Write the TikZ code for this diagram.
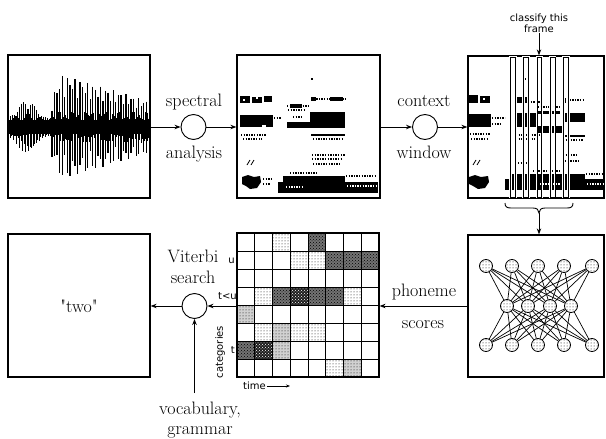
\documentclass[tikz,border=0pt]{standalone}
\usepackage{fontspec}
\newfontfamily\smallsans{DejaVu Sans}
\newfontfamily\qfont{Latin Modern Roman}
\usetikzlibrary{arrows.meta,patterns}
\tikzset{
  box/.style={draw, line width=1.3pt, inner sep=0pt},
  circ/.style={draw, circle, line width=0.9pt, minimum size=25pt, inner sep=0pt},
  lab/.style={font=\fontsize{18}{21}\selectfont, inner sep=0pt},
  small/.style={font=\smallsans\fontsize{10}{11}\selectfont, inner sep=0pt},
  arr/.style={-{Stealth[length=6pt,width=4.5pt]}, line width=0.9pt},
  dotrow/.style={line width=1.3pt, dash pattern=on 1.3pt off 1.3pt},
  frm/.style={line width=1pt},
  nn/.style={draw, circle, line width=0.8pt, minimum size=13pt, inner sep=0pt, pattern=dots},
  clight/.style={pattern=dots},
  cmed/.style={fill=black!18, postaction={pattern=dots}},
  cdark/.style={fill=black!55, postaction={pattern=crosshatch dots}},
  cvdark/.style={fill=black!88, postaction={pattern=crosshatch dots, pattern color=white}},
}
\newcommand\gcell[3]{\path[#3] ({237+#1*17.75},{233+#2*18}) rectangle ({237+(#1+1)*17.75},{233+(#2+1)*18});}
\begin{document}
\begin{tikzpicture}[x=1pt,y=-1pt]
\useasboundingbox (0,0) rectangle (606,439);

% ---------- boxes ----------
\node[box, minimum width=142pt, minimum height=143pt] (b1) at (79,126.5) {};
\node[box, minimum width=143pt, minimum height=143pt] (b2) at (308.5,126.5) {};
\node[box, minimum width=136pt, minimum height=142pt] (b3) at (536,127) {};
\node[box, minimum width=136pt, minimum height=142pt] (b4) at (536,306) {};
\node[box, minimum width=142pt, minimum height=143pt] (b5) at (79,305.5) {};

% ---------- waveform ----------
\foreach \i in {0,...,139}{
  \pgfmathsetmacro\xx{9.5+\i}
  \pgfmathsetmacro\env{\xx<50 ? 8+19*exp(0-pow((\xx-27)/12,2)) : 15}
  \pgfmathsetmacro\up{7+(\env-7)*pow(abs(sin(\i*97.3)),2)}
  \pgfmathsetmacro\dn{7+(\env-7)*pow(abs(sin(\i*61.7+20)),2)}
  \draw[line width=1.05pt] (\xx,127-\up) -- (\xx,127+\dn);
}
\foreach \j in {0,...,37}{
  \pgfmathsetmacro\xx{52+\j*2.55}
  \pgfmathsetmacro\A{\xx<62 ? 30+2.2*(\xx-52) : 52-0.3*(\xx-62)}
  \pgfmathsetmacro\up{\A*(0.55+0.45*abs(sin(\j*71.3)))}
  \pgfmathsetmacro\dn{\A*(0.55+0.45*abs(cos(\j*53.9)))}
  \draw[line width=1.3pt] (\xx,127-\up) -- (\xx,127+\dn);
}

% ---------- spectrogram 1 ----------
\fill (311,78) rectangle (313,80);
\fill (240,96) rectangle (250,103);
\fill (252,97) rectangle (262,103);
\fill (264,96) rectangle (272,102);
\fill[white] (243,99) rectangle (245,101);
\fill[white] (256,96) rectangle (258,99);
\fill (240,115) rectangle (273,127);
\fill[white] (262,125) rectangle (266,127);
\draw[dotrow] (274,118) -- (281,118);
\draw[dotrow] (241,135) -- (266,135);
\draw[dotrow] (243,139) -- (262,139);
\draw[line width=0.8pt] (247,165)--(250,160) (251,165)--(254,160);
\fill (242,177) -- (248,175) -- (254,177) -- (260,176) -- (261,182) -- (257,188) -- (250,189) -- (246,186) -- (242,184) -- cycle;
\draw[dotrow] (263,179)--(272,179);
\draw[dotrow] (263,184)--(270,184);
\draw[dotrow] (287,106) -- (310,106);
\fill (290,104) rectangle (302,108);
\draw[dotrow] (288,110) -- (306,110);
\draw[dotrow] (293,117) -- (301,117);
\fill (287,122) rectangle (345,128);
\fill (310,112) rectangle (345,127);
\draw[dotrow] (311,99) -- (345,99);
\fill (311,97) rectangle (316,101);
\fill (330,97) rectangle (343,101);
\fill (311,134) rectangle (345,136);
\draw[dotrow] (313,139)--(343,139);
\draw[dotrow] (312,155)--(345,155);
\draw[dotrow] (312,159)--(342,159);
\draw[dotrow] (313,164)--(340,164);
\fill (278,182) rectangle (378,193);
\fill (283,176) rectangle (345,182);
\draw[dotrow] (290,173)--(318,173);
\draw[dotrow] (346,176)--(377,176);
\draw[dotrow, white] (286,187) -- (302,187);
\draw[dotrow, white] (347,186) -- (377,186);

% ---------- spectrogram 2 (context window) ----------
\fill (524,78) rectangle (526,80);
\fill (469,95) rectangle (478,103);
\fill (480,96) rectangle (490,103);
\fill[white] (483,98) rectangle (485,100);
\fill (468,114) rectangle (491,127);
\draw[dotrow] (492,118) -- (505,118);
\draw[dotrow] (492,124) -- (500,124);
\draw[dotrow] (470,134) -- (490,134);
\draw[dotrow] (471,139) -- (489,139);
\draw[line width=0.8pt] (473,165)--(476,160) (477,165)--(480,160);
\fill (469,177) -- (475,175) -- (481,177) -- (488,176) -- (489,182) -- (485,188) -- (478,189) -- (473,186) -- (469,184) -- cycle;
\fill (515,97) rectangle (527,103);
\draw[dotrow] (528,102) -- (541,102);
\fill (515,113) rectangle (538,127);
\draw[dotrow] (538,107) -- (560,107);
\fill (538,111) rectangle (560,114);
\fill (538,126) rectangle (562,133);
\draw[dotrow] (516,135) -- (540,135);
\draw[dotrow] (516,139) -- (535,139);
\fill (562,98) rectangle (566,103);
\draw[dotrow] (567,100) -- (585,100);
\fill (562,113) rectangle (585,122);
\fill (562,135) rectangle (585,137);
\draw[dotrow] (563,140) -- (583,140);
\draw[dotrow] (563,155) -- (578,155);
\draw[dotrow] (565,161) -- (580,161);
\draw[dotrow] (518,163) -- (530,163);
\fill (505,179) rectangle (604,190);
\fill (512,174) rectangle (585,179);
\draw[dotrow] (533,171) -- (560,171);
\draw[dotrow] (586,174) -- (603,174);
\draw[dotrow, white] (540,184) -- (560,184);
\draw[dotrow, white] (587,184) -- (603,184);
\foreach \k in {0,...,4}{
  \pgfmathsetmacro\fx{510.5+13.25*\k}
  \draw[white, line width=2.6pt] (\fx,57) rectangle (\fx+4.8,197);
  \draw[frm] (\fx,57) rectangle (\fx+4.8,197);
}

% ---------- classify this frame ----------
\node[small, align=center, font=\smallsans\fontsize{10}{11}\selectfont] (cls) at (539,23) {classify this\\frame};
\draw[arr] (cls.south) -- (cls.south |- b3.north);

% ---------- brace ----------
\coordinate (br1) at (505,203);
\coordinate (brt) at (539,213);
\coordinate (br2) at (573,203);
\draw[line width=0.9pt] (br1) .. controls (505,207) and (507,208) .. (511,208) -- (533,208) .. controls (537,208) and (539,210) .. (brt) .. controls (539,210) and (541,208) .. (545,208) -- (567,208) .. controls (571,208) and (573,207) .. (br2);
\draw[arr] (brt) -- (brt |- b4.north);

% ---------- neural net ----------
\foreach \k/\x in {1/486,2/512,3/538,4/564,5/592}{
  \node[nn] (t\k) at (\x,266) {};
  \node[nn] (o\k) at (\x,345) {};
}
\foreach \k/\x in {1/507,2/528,3/550,4/571}{
  \node[nn] (m\k) at (\x,306) {};
}
\foreach \a in {1,...,5}{
  \foreach \b in {1,...,4}{
    \draw[line width=0.7pt] (t\a) -- (m\b);
    \draw[line width=0.7pt] (o\a) -- (m\b);
  }
}

% ---------- grid ----------
\gcell{2}{0}{clight}
\gcell{4}{0}{cdark}
\gcell{3}{1}{clight}
\gcell{4}{1}{clight}
\gcell{5}{1}{cdark}
\gcell{6}{1}{cdark}
\gcell{7}{1}{cdark}
\gcell{1}{3}{clight}
\gcell{2}{3}{cdark}
\gcell{3}{3}{cvdark}
\gcell{4}{3}{cdark}
\gcell{5}{3}{cdark}
\gcell{6}{3}{clight}
\gcell{0}{4}{cmed}
\gcell{1}{5}{clight}
\gcell{2}{5}{cmed}
\gcell{3}{5}{clight}
\gcell{4}{5}{clight}
\gcell{0}{6}{cdark}
\gcell{1}{6}{cvdark}
\gcell{2}{6}{cmed}
\gcell{5}{7}{clight}
\gcell{6}{7}{cmed}
\foreach \c in {1,...,7}{
  \draw[line width=1pt] ({237+\c*17.75},233) -- ({237+\c*17.75},377);
}
\foreach \r in {1,...,7}{
  \draw[line width=1pt] (237,{233+\r*18}) -- (379,{233+\r*18});
}
\node[draw, line width=1.2pt, minimum width=142pt, minimum height=144pt, inner sep=0pt] (grid) at (308,305) {};
\node[small, anchor=base east] (lu) at (235,263) {u};
\node[small, anchor=base east] (ltu) at (237,299) {t<u};
\node[small, anchor=base east] (lt) at (235,353) {t};
\node[small, rotate=90] (lcat) at (220,352) {categories};
\node[small, anchor=base west] (ltime) at (243,389) {time};
\draw[-{Stealth[length=4pt,width=3pt]}, line width=0.8pt] (ltime.east |- 0,386) ++(1,0) coordinate (tm1) -- ++(23,0) coordinate (tm2);

% ---------- circles and arrows ----------
\node[circ] (c1) at (193.5,127) {};
\node[circ] (c2) at (425,127) {};
\node[circ] (vit) at (194.5,306) {};
\draw[arr] (b1.east |- c1) -- (c1);
\draw[arr] (c1) -- (b2.west |- c1);
\draw[arr] (b2.east |- c2) -- (c2);
\draw[arr] (c2) -- (b3.west |- c2);
\draw[arr] (b4.west) -- (grid.east |- b4.west);
\draw[arr] (grid.west |- vit) -- (vit);
\draw[arr] (vit) -- (b5.east |- vit);
\coordinate (vtop) at (194.5,393);
\draw[arr] (vtop) -- (vit);

% ---------- labels ----------
\node[lab, anchor=base] (tspec) at (194,106) {spectral};
\node[lab, anchor=base] (tana) at (194,158) {analysis};
\node[lab, anchor=base] (tcon) at (424,106) {context};
\node[lab, anchor=base] (twin) at (424,158) {window};
\node[lab, anchor=base] (tvit) at (193,262) {Viterbi};
\node[lab, anchor=base] (tsea) at (193,283) {search};
\node[lab, anchor=base] (tpho) at (424,296) {phoneme};
\node[lab, anchor=base] (tsco) at (423,328) {scores};
\node[lab, anchor=base] (tvoc) at (200,414) {vocabulary,};
\node[lab, anchor=base] (tgra) at (200,434) {grammar};
\node[lab, font=\qfont\fontsize{18}{21}\selectfont] (ttwo) at (79,306) {"two"};
\end{tikzpicture}
\end{document}
